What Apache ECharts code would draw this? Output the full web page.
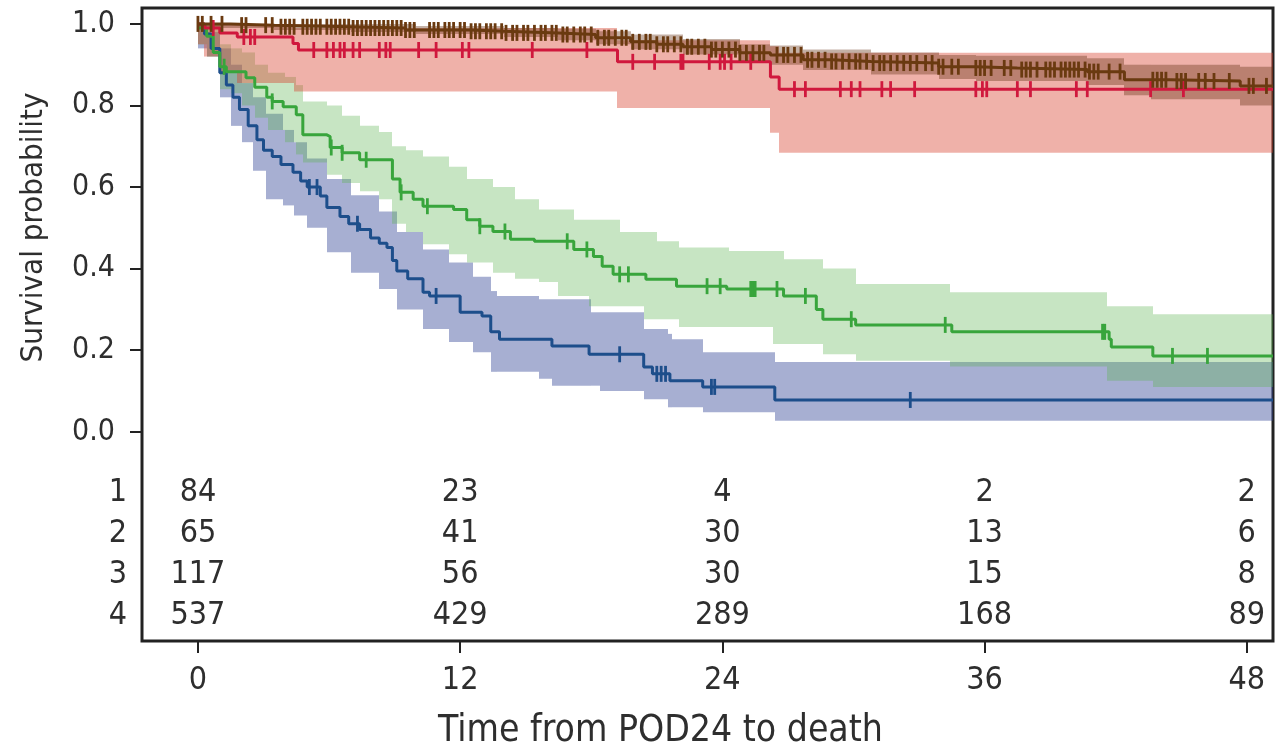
<!DOCTYPE html>
<html>
<head>
<meta charset="utf-8">
<script src="https://cdn.jsdelivr.net/npm/echarts@6/dist/echarts.min.js"></script>
<style>
  html, body { margin: 0; padding: 0; background: #fff; }
  #chart { width: 1279px; height: 755px; }
</style>
</head>
<body>
<div id="chart"></div>
<script>
// ticks and risk table
var months = [0, 12, 24, 36, 48];
var yTicks = [0, 0.2, 0.4, 0.6, 0.8, 1.0];
var groups = ['1', '2', '3', '4'];
var atRisk1 = [84, 23, 4, 2, 2];
var atRisk2 = [65, 41, 30, 13, 6];
var atRisk3 = [117, 56, 30, 15, 8];
var atRisk4 = [537, 429, 289, 168, 89];

// KM step curves [time, survival]
var surv1 = [[0, 1], [0.3, 0.975], [0.6, 0.94], [1.0, 0.88], [1.3, 0.85], [1.6, 0.82], [1.9, 0.79], [2.3, 0.75],
  [2.7, 0.716], [3.0, 0.69], [3.4, 0.675], [3.8, 0.655], [4.35, 0.636], [4.7, 0.615], [5.0, 0.60], [5.6, 0.578],
  [5.9, 0.55], [6.5, 0.528], [6.9, 0.51], [7.4, 0.496], [7.9, 0.475], [8.3, 0.462], [8.65, 0.452], [8.9, 0.42],
  [9.1, 0.394], [9.6, 0.375], [10.3, 0.342], [10.6, 0.333], [12.0, 0.293], [13.0, 0.284], [13.4, 0.245],
  [13.8, 0.227], [16.2, 0.21], [17.9, 0.19], [20.4, 0.159], [20.8, 0.142], [21.6, 0.125], [23.1, 0.11],
  [26.4, 0.078], [49.2, 0.078]];
var surv2 = [[0, 1], [0.3, 0.99], [1.0, 0.978], [1.8, 0.968], [4.35, 0.952], [4.6, 0.936], [19.2, 0.907],
  [26.2, 0.87], [26.6, 0.84], [49.2, 0.84]];
var surv3 = [[0, 0.99], [0.4, 0.97], [0.7, 0.93], [1.0, 0.895], [1.3, 0.883], [2.2, 0.868], [2.6, 0.845],
  [3.15, 0.82], [3.4, 0.81], [3.9, 0.797], [4.5, 0.777], [4.8, 0.728], [5.9, 0.724], [6.05, 0.697], [6.6, 0.684],
  [7.4, 0.667], [8.9, 0.62], [9.25, 0.587], [9.85, 0.57], [10.3, 0.553], [11.7, 0.545], [12.3, 0.52],
  [12.9, 0.504], [13.5, 0.491], [14.3, 0.472], [15.4, 0.467], [17.2, 0.447], [18.1, 0.43], [18.5, 0.406],
  [19.0, 0.386], [20.5, 0.374], [21.9, 0.357], [24.2, 0.35], [26.8, 0.333], [28.3, 0.30], [28.6, 0.276],
  [30.1, 0.262], [34.5, 0.245], [41.7, 0.227], [41.8, 0.208], [43.7, 0.186], [49.2, 0.186]];
var surv4 = [[0, 1], [1.5, 0.997], [3.5, 0.993], [7, 0.99], [9.5, 0.985], [12.5, 0.982], [14, 0.978],
  [16.5, 0.974], [18.2, 0.966], [19.8, 0.956], [21, 0.95], [22.2, 0.944], [23.5, 0.937], [24.8, 0.929],
  [26.2, 0.924], [27.7, 0.912], [29, 0.908], [30.8, 0.904], [33.9, 0.895], [35.6, 0.892], [37.5, 0.888],
  [40.7, 0.883], [42.4, 0.863], [44.5, 0.86], [47.7, 0.848], [49.2, 0.848]];

// confidence bands [time, lower, upper]
var band1 = [[0, 0.94, 1.0], [0.4, 0.92, 0.98], [1.0, 0.82, 0.94], [1.5, 0.75, 0.90], [2.0, 0.71, 0.855],
  [2.5, 0.64, 0.82], [3.1, 0.57, 0.78], [3.9, 0.555, 0.74], [4.4, 0.53, 0.71], [5.0, 0.50, 0.67],
  [5.9, 0.44, 0.62], [7.0, 0.39, 0.58], [8.3, 0.35, 0.54], [9.1, 0.30, 0.49], [10.3, 0.252, 0.447],
  [11.5, 0.22, 0.415], [12.6, 0.195, 0.38], [13.4, 0.147, 0.345], [13.7, 0.147, 0.333], [15.6, 0.13, 0.325],
  [16.2, 0.113, 0.325], [18.0, 0.113, 0.293], [18.4, 0.10, 0.293], [20.4, 0.08, 0.252], [21.5, 0.06, 0.24],
  [21.7, 0.06, 0.227], [23.1, 0.048, 0.195], [26.4, 0.027, 0.171]];
var band2 = [[0, 0.95, 1.0], [0.3, 0.92, 1.0], [1.0, 0.88, 1.0], [1.8, 0.855, 1.0], [4.4, 0.834, 0.99],
  [19.2, 0.794, 0.96], [26.2, 0.733, 0.945], [26.6, 0.684, 0.929]];
var band3 = [[0, 0.95, 1.0], [0.4, 0.92, 1.0], [1.0, 0.84, 0.95], [1.5, 0.83, 0.94], [2.0, 0.80, 0.93],
  [2.6, 0.77, 0.90], [3.2, 0.74, 0.88], [4.0, 0.71, 0.87], [4.5, 0.68, 0.85], [4.8, 0.66, 0.81],
  [5.9, 0.63, 0.80], [6.6, 0.61, 0.775], [7.4, 0.59, 0.75], [8.3, 0.57, 0.735], [8.9, 0.51, 0.70],
  [9.5, 0.49, 0.69], [10.3, 0.46, 0.675], [11.5, 0.435, 0.65], [12.3, 0.415, 0.62], [13.5, 0.39, 0.60],
  [14.5, 0.375, 0.57], [15.6, 0.367, 0.545], [16.5, 0.333, 0.545], [17.2, 0.333, 0.52], [17.9, 0.308, 0.52],
  [19.3, 0.308, 0.49], [20.4, 0.276, 0.49], [21.0, 0.276, 0.467], [22.0, 0.257, 0.452], [24.3, 0.257, 0.443],
  [26.3, 0.215, 0.443], [26.8, 0.215, 0.423], [28.6, 0.19, 0.40], [30.1, 0.174, 0.362], [34.4, 0.16, 0.342],
  [41.6, 0.125, 0.308], [43.7, 0.11, 0.288]];
var band4 = [[0, 0.99, 1.0], [3.5, 0.985, 1.0], [7, 0.98, 1.0], [10, 0.975, 0.995], [14, 0.968, 0.99],
  [16.5, 0.96, 0.988], [18.2, 0.95, 0.982], [19.8, 0.938, 0.974], [22.2, 0.925, 0.963], [24.8, 0.908, 0.95],
  [26.2, 0.9, 0.947], [27.7, 0.887, 0.937], [30.8, 0.876, 0.93], [33.9, 0.865, 0.924], [35.6, 0.86, 0.922],
  [40.7, 0.85, 0.916], [42.4, 0.825, 0.9], [43.6, 0.815, 0.9], [47.7, 0.8, 0.895]];

// censoring times
var cens1 = [5.1, 5.45, 7.3, 10.9, 19.3, 21.0, 21.2, 21.4, 23.5, 23.65, 32.6];
var cens2 = [0.7, 2.1, 2.4, 2.6, 5.3, 5.9, 6.2, 6.5, 6.7, 7.1, 7.4, 8.3, 8.6, 8.8, 10.1, 10.9, 12.1, 12.4,
  15.3, 17.8, 19.9, 20.9, 22.1, 22.2, 23.4, 23.9, 24.1, 24.4, 25.3, 27.3, 27.8, 29.4, 29.9, 30.3, 31.3, 31.7,
  32.8, 35.6, 35.9, 36.1, 37.5, 38.1, 40.2, 40.7, 43.6, 45.1];
var cens3 = [1.2, 3.4, 6.1, 6.6, 7.7, 9.3, 10.5, 12.9, 14.05, 16.9, 17.8, 19.3, 19.7, 23.3, 23.9, 25.3, 25.4,
  25.5, 26.5, 27.8, 29.9, 34.2, 41.4, 41.5, 44.6, 46.2];
var cens4 = [0.0, 0.2, 0.6, 1.1, 2.0, 2.2, 3.1, 3.4, 3.8, 4.0, 4.2, 4.4, 4.8, 5.0, 5.2, 5.4, 5.6,
  5.9, 6.1, 6.3, 6.5, 6.7, 6.9, 7.1, 7.3, 7.5, 7.7, 7.9, 8.1, 8.3, 8.5, 8.7, 8.9, 9.1, 9.3, 9.5, 9.7, 9.9,
  10.6, 10.8, 11.0, 11.3, 11.5, 11.7, 12.0, 12.2, 12.5, 12.7, 12.9, 13.2, 13.4, 13.6, 13.9, 14.1, 14.4, 14.6,
  14.9, 15.1, 15.4, 15.7, 15.9, 16.2, 16.4, 16.7, 16.9, 17.2, 17.5, 17.7, 18.0, 18.3, 18.6, 18.8, 19.1, 19.4,
  19.6, 19.9, 20.2, 20.5, 20.7, 21.0, 21.3, 21.5, 21.8, 22.1, 22.4, 22.6, 22.9, 23.2, 23.5, 23.7, 24.0, 24.3,
  24.6, 24.8, 25.1, 25.4, 25.7, 25.9, 26.5, 26.8, 27.0, 27.3, 27.6, 27.9, 28.1, 28.4, 28.7, 29.0, 29.2, 29.5,
  29.8, 30.1, 30.3, 30.6, 30.9, 31.2, 31.4, 31.7, 32.0, 32.3, 32.6, 32.9, 33.3, 33.6, 33.9, 34.1, 34.5, 34.8,
  35.6, 35.8, 36.0, 36.3, 36.9, 37.2, 37.7, 37.9, 38.1, 38.4, 38.8, 39.0, 39.2, 39.5, 39.7, 39.9, 40.1, 40.3,
  40.6, 40.8, 41.0, 41.2, 41.7, 42.2, 43.7, 43.9, 44.1, 44.3, 44.8, 45.0, 45.2, 45.8, 46.1, 46.5, 47.2, 48.1,
  48.3, 48.9];

var xMin = -2.56, xMax = 49.2;
var font = "'Liberation Sans Narrow', 'DejaVu Sans Condensed', sans-serif";
var txt = '#2e2e2e';

function survAt(curve, t) {
    var s = curve[0][1];
    for (var i = 0; i < curve.length; i++) {
        if (curve[i][0] <= t) s = curve[i][1]; else break;
    }
    return s;
}

function rowY(i) { return -0.15 - 0.1 * i; }

function bandSeries(band, color) {
    return {
        type: 'custom', silent: true, z: 1,
        data: band,
        encode: {x: 0, y: [1, 2]},
        renderItem: function (params, api) {
            var i = params.dataIndex;
            var tNext = i + 1 < band.length ? band[i + 1][0] : xMax;
            var p0 = api.coord([api.value(0), api.value(2)]);
            var p1 = api.coord([tNext, api.value(1)]);
            var x0 = Math.round(p0[0]), x1 = Math.round(p1[0]);
            return {
                type: 'rect',
                shape: {x: x0, y: p0[1], width: x1 - x0, height: p1[1] - p0[1]},
                style: {fill: color}
            };
        }
    };
}

function lineSeries(curve, color) {
    return {
        type: 'line', step: 'end', symbol: 'none', z: 3, silent: true,
        data: curve,
        lineStyle: {color: color, width: 3}
    };
}

function censSeries(curve, times, color) {
    return {
        type: 'scatter', symbol: 'rect', symbolSize: [2.8, 16], z: 4, silent: true,
        itemStyle: {color: color, opacity: 1},
        data: times.map(function (t) { return [t, survAt(curve, t)]; })
    };
}

var colors = ['#1d4e8b', '#d0183d', '#38a53c', '#6a3a10'];
var bandColors = ['rgba(50,70,150,0.43)', 'rgba(215,60,40,0.4)', 'rgba(90,180,80,0.34)', 'rgba(100,50,20,0.38)'];
var curves = [surv1, surv2, surv3, surv4];
var bands = [band1, band2, band3, band4];
var censors = [cens1, cens2, cens3, cens4];
var risk = [atRisk1, atRisk2, atRisk3, atRisk4];

var series = [];
[0, 2, 1, 3].forEach(function (g) { series.push(bandSeries(bands[g], bandColors[g])); });
[0, 2, 1, 3].forEach(function (g) { series.push(lineSeries(curves[g], colors[g])); });
[0, 2, 1, 3].forEach(function (g) { series.push(censSeries(curves[g], censors[g], colors[g])); });

var tableData = [];
risk.forEach(function (row, g) {
    row.forEach(function (n, j) { tableData.push([months[j], rowY(g), n]); });
});
series.push({
    type: 'scatter', symbolSize: 0, silent: true, z: 5,
    itemStyle: {opacity: 1},
    data: tableData,
    label: {
        show: true, position: 'inside', color: txt, fontFamily: font, fontSize: 32,
        formatter: function (p) { return String(p.value[2]); }
    }
});

var chart = echarts.init(document.getElementById('chart'));
chart.setOption({
    animation: false,
    grid: {left: 142, right: 6, top: 8, bottom: 112, show: true, borderColor: '#222', borderWidth: 3, backgroundColor: 'transparent'},
    xAxis: {
        type: 'value', min: xMin, max: xMax,
        axisLine: {show: false, onZero: false},
        splitLine: {show: false},
        axisTick: {show: true, customValues: months, length: 12, lineStyle: {color: '#222', width: 2}},
        axisLabel: {customValues: months, margin: 24, color: txt, fontFamily: font, fontSize: 32},
        name: 'Time from POD24 to death', nameLocation: 'middle', nameGap: 72,
        nameTextStyle: {color: txt, fontFamily: font, fontSize: 37, padding: [0, 94, 0, 0]}
    },
    yAxis: [{
        type: 'value', min: -0.513, max: 1.039,
        axisLine: {show: false, onZero: false},
        splitLine: {show: false},
        axisTick: {show: true, customValues: yTicks, length: 12, lineStyle: {color: '#222', width: 2}},
        axisLabel: {customValues: yTicks, margin: 27, color: txt, fontFamily: font, fontSize: 30,
            formatter: function (v) { return v.toFixed(1); }},
        name: 'Survival probability', nameLocation: 'middle', nameGap: 93,
        nameTextStyle: {color: txt, fontFamily: font, fontSize: 31, padding: [0, 0, 0, 194]}
    }, {
        type: 'value', min: -0.513, max: 1.039, position: 'left',
        axisLine: {show: false, onZero: false}, axisTick: {show: false}, splitLine: {show: false},
        axisLabel: {customValues: groups.map(function (g, i) { return rowY(i); }), margin: 15,
            color: txt, fontFamily: font, fontSize: 32,
            formatter: function (v) {
                for (var i = 0; i < groups.length; i++) if (Math.abs(rowY(i) - v) < 1e-6) return groups[i];
                return '';
            }}
    }],
    series: series
});
</script>
</body>
</html>
